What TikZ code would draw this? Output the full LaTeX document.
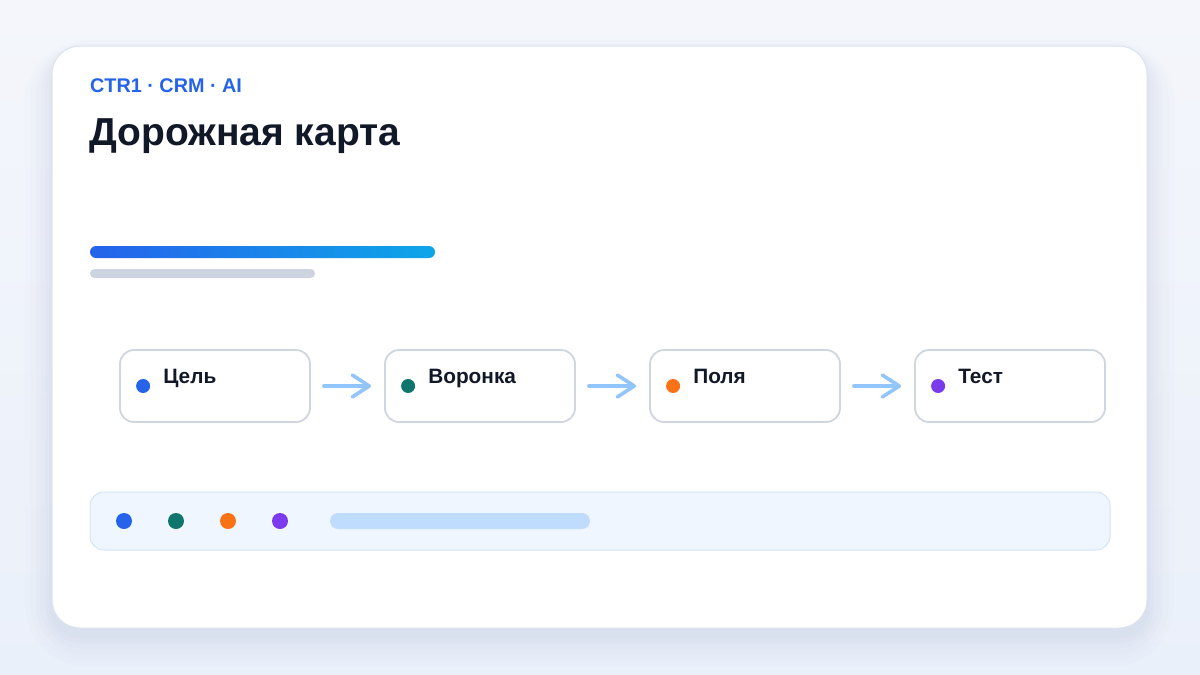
\documentclass[tikz,border=0pt]{standalone}
\usepackage{fontspec}
\setmainfont{Liberation Sans}
\usetikzlibrary{arrows.meta,calc}
\definecolor{bgA}{HTML}{F4F6FB}
\definecolor{bgB}{HTML}{EAF0FA}
\definecolor{cardline}{HTML}{DCE3EE}
\definecolor{shadowc}{HTML}{9AAAC8}
\definecolor{accent}{HTML}{2563EB}
\definecolor{gradR}{HTML}{0EA5E9}
\definecolor{ink}{HTML}{111827}
\definecolor{greybar}{HTML}{CDD4E0}
\definecolor{boxline}{HTML}{CFD6E0}
\definecolor{arrowc}{HTML}{93C5FD}
\definecolor{dotA}{HTML}{2563EB}
\definecolor{dotB}{HTML}{0F766E}
\definecolor{dotC}{HTML}{F97316}
\definecolor{dotD}{HTML}{7C3AED}
\definecolor{panelfill}{HTML}{EFF6FF}
\definecolor{panelline}{HTML}{D3E4F7}
\definecolor{pillc}{HTML}{BFDBFE}
\tikzset{
  stepbox/.style={draw=boxline, line width=1.8pt, fill=white, rounded corners=14pt,
    minimum width=190pt, minimum height=72pt, inner sep=0pt},
  dotmark/.style={circle, inner sep=0pt, minimum size=14pt},
  bigdot/.style={circle, inner sep=0pt, minimum size=16pt},
  steplabel/.style={anchor=base west, inner sep=0pt, text=ink, font=\bfseries\fontsize{20.8}{24}\selectfont},
  flow/.style={draw=arrowc, line width=3.6pt, line cap=round,
    -{Straight Barb[length=17pt,width=22pt,line cap=round,line join=round]},
    shorten <=13pt, shorten >=13pt}
}
\begin{document}
\begin{tikzpicture}[x=1pt,y=-1pt]
\useasboundingbox (0,0) rectangle (1200,675);
% background
\shade[top color=bgA, bottom color=bgB] (0,0) rectangle (1200,675);
% card shadow
\foreach \s/\o in {34/0.02,27/0.025,20/0.03,14/0.035,8/0.045,3/0.05}{
  \fill[shadowc, opacity=\o, rounded corners=28pt+\s pt]
    (52-\s*0.8,46-\s*0.4+8) rectangle (1147+\s*0.8,628+\s*0.9+8);
}
% card
\node[draw=cardline, line width=1pt, fill=white, rounded corners=28pt, inner sep=0pt,
  minimum width=1095pt, minimum height=582pt] (card) at (599.5,337) {};
% header texts
\node[anchor=base west, inner sep=0pt, text=accent, font=\bfseries\fontsize{19.8}{23}\selectfont]
  (kicker) at (90,92) {CTR1 · CRM · AI};
\node[anchor=base west, inner sep=0pt, text=ink, font=\bfseries\fontsize{39}{44}\selectfont]
  (title) at (89,145) {Дорожная карта};
% progress bars
\shade[left color=accent, right color=gradR, rounded corners=6pt] (90,246) rectangle (435,258);
\fill[greybar, rounded corners=4.5pt] (90,269) rectangle (315,278);
% step boxes
\node[stepbox] (b1) at (215,386) {};
\node[stepbox] (b2) at (480,386) {};
\node[stepbox] (b3) at (745,386) {};
\node[stepbox] (b4) at (1010,386) {};
\foreach \b/\c/\t in {b1/dotA/Цель, b2/dotB/Воронка, b3/dotC/Поля, b4/dotD/Тест}{
  \node[dotmark, fill=\c] (\b dot) at ($(\b.west)+(24,0)$) {};
  \node[steplabel] (\b lab) at ($(\b.west)+(44,-3)$) {\t};
}
% arrows
\draw[flow] (b1.east) -- (b2.west);
\draw[flow] (b2.east) -- (b3.west);
\draw[flow] (b3.east) -- (b4.west);
% bottom panel
\node[draw=panelline, line width=1pt, fill=panelfill, rounded corners=14pt, inner sep=0pt,
  minimum width=1020pt, minimum height=58pt] (panel) at (600,521) {};
\node[bigdot, fill=dotA] (p1) at (124,521) {};
\node[bigdot, fill=dotB] (p2) at (176,521) {};
\node[bigdot, fill=dotC] (p3) at (228,521) {};
\node[bigdot, fill=dotD] (p4) at (280,521) {};
\fill[pillc, rounded corners=8pt] (330,513) rectangle (590,529);
\end{tikzpicture}
\end{document}
